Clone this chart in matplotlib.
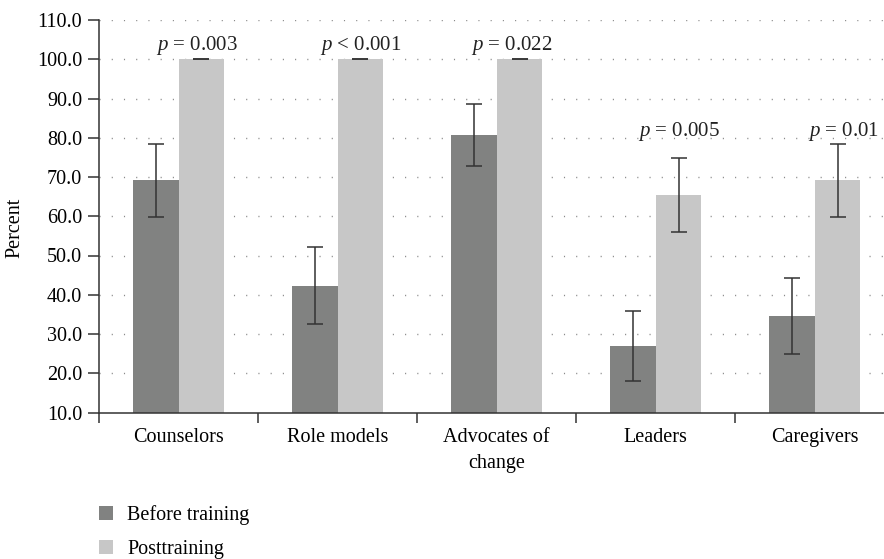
import numpy as np
import matplotlib.pyplot as plt

plt.rcParams['font.family'] = ['Liberation Serif', 'DejaVu Serif']
plt.rcParams['mathtext.fontset'] = 'custom'
plt.rcParams['mathtext.rm'] = 'Liberation Serif'
plt.rcParams['mathtext.it'] = 'Liberation Serif:italic'

# data (n = 26 per group)
categories = ['Counselors', 'Role models', 'Advocates of\nchange', 'Leaders', 'Caregivers']
before = [69.2, 42.3, 80.8, 26.9, 34.6]
before_err = [9.3, 9.8, 7.9, 8.9, 9.6]
post = [100.0, 100.0, 100.0, 65.4, 69.2]
post_err = [0.0, 0.0, 0.0, 9.5, 9.3]
p_labels = ['$p$ = 0.003', '$p$ < 0.001', '$p$ = 0.022', '$p$ = 0.005', '$p$ = 0.01']

# styling
dark = '#818281'
light = '#c7c7c7'
ecol = '#333333'
fs = 14.5
label_y = [103.4, 103.4, 103.4, 81.7, 81.7]
label_dx = [-0.03, 0.0, -0.05, 0.0, 0.04]

fig = plt.figure(figsize=(8.84, 5.59), dpi=100)
ax = fig.add_axes([99/884, 146.5/559, 795.5/884, 392.5/559])

x = np.arange(len(categories))
w = 0.286

ax.set_ylim(10, 110)
ax.set_xlim(-0.5, len(categories) - 0.5)

for yv in np.arange(20, 111, 10):
    ax.axhline(yv, color='#8a8a8a', lw=1.0, ls=(0, (0.8, 8)), zorder=0)

ax.bar(x - w/2, before, w, color=dark, zorder=2, label='Before training')
ax.bar(x + w/2, post, w, color=light, zorder=2, label='Posttraining')
ax.errorbar(x - w/2, before, yerr=before_err, fmt='none', ecolor=ecol,
            elinewidth=1.1, capsize=5.5, capthick=1.1, zorder=3)
ax.errorbar(x + w/2, post, yerr=post_err, fmt='none', ecolor=ecol,
            elinewidth=1.1, capsize=5.5, capthick=1.1, zorder=3)

for i, lab in enumerate(p_labels):
    ax.text(x[i] + w/2 + label_dx[i], label_y[i], lab, ha='center', va='center',
            fontsize=fs + 0.5, color='#222222')

ax.set_yticks(np.arange(10, 111, 10))
ax.set_yticklabels(['%.1f' % v for v in np.arange(10, 111, 10)], fontsize=fs)
ax.set_xticks(np.arange(-0.5, len(categories), 1.0))
ax.set_xticklabels([])
ax.set_xticks(x, minor=True)
ax.set_xticklabels(categories, minor=True, fontsize=fs, linespacing=1.55)
ax.tick_params(axis='x', which='minor', length=0, pad=11)
ax.tick_params(axis='x', which='major', direction='out', length=7, width=1.1, color='#333333')
ax.tick_params(axis='y', direction='out', length=8, width=1.1, color='#333333', pad=4)

for s in ['top', 'right']:
    ax.spines[s].set_visible(False)
for s in ['left', 'bottom']:
    ax.spines[s].set_color('#333333')
    ax.spines[s].set_linewidth(1.1)

ax.set_ylabel('Percent', fontsize=fs)
ax.yaxis.set_label_coords(-0.094, 0.47)

fig.legend(loc='upper left', bbox_to_anchor=(99/884, 1 - 505/559), frameon=False,
           fontsize=fs, handlelength=0.7, handleheight=0.7, handletextpad=0.7,
           labelspacing=0.75, borderpad=0, borderaxespad=0)

fig.savefig('out.png', dpi=100)
